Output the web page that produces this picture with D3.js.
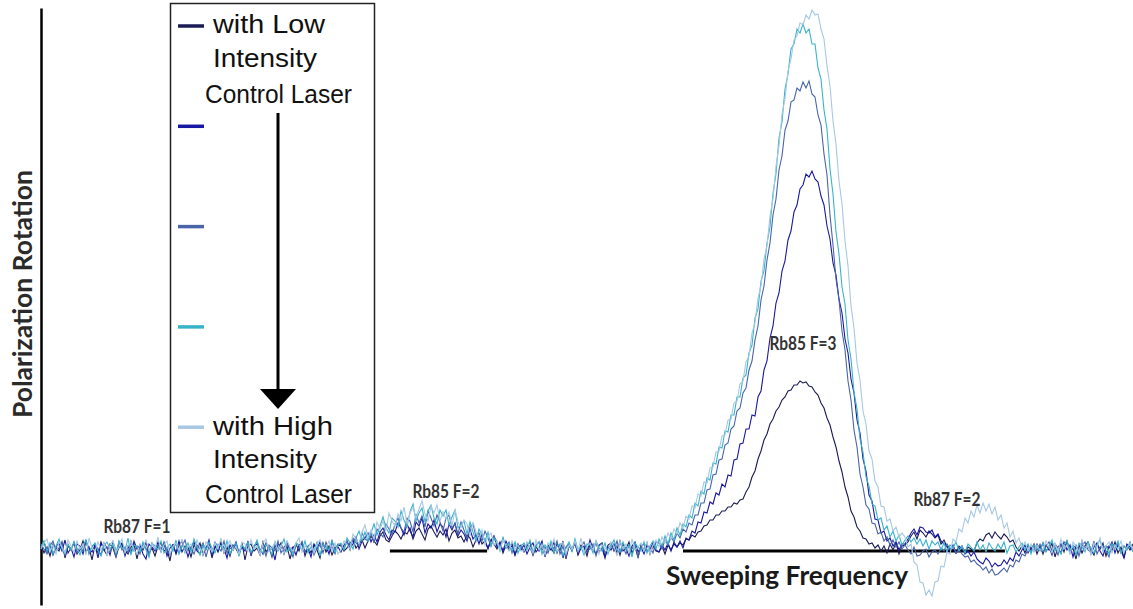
<!DOCTYPE html>
<html>
<head>
<meta charset="utf-8">
<script src="https://cdnjs.cloudflare.com/ajax/libs/d3/7.8.5/d3.min.js"></script>
<style>
  body { margin: 0; background: #fff; }
  svg { display: block; }
</style>
</head>
<body>
<div id="chart"></div>
<script>
// DATA ===========================================================================================
// polarization rotation (a.u.) per sweep sample, low -> high control laser intensity
// rows: flat | Rb85 F=2 | flat | Rb85 F=3 | Rb87 F=2 | flat
const lowest = [
  3,-5,1,-8,4,0,-3,6,-10,2,-1,5,-6,-2,7,-4,1,-12,3,-5,
  6,-2,-7,4,0,-9,2,5,-3,-6,1,4,-11,3,-2,6,-5,0,-8,2,
  5,-3,-1,-13,4,-6,2,7,-4,1,-9,3,-2,5,-7,0,4,-10,2,-3,
  6,-5,1,-8,3,-1,-6,5,-12,2,4,-3,0,-7,6,-4,1,-9,3,-2,
  5,-6,2,-11,0,4,-3,6,-8,1,-5,3,-2,-10,5,-4,2,-7,0,3,
  2,-3,0,5,8,0,4,8,0,7,12,7,3,12,16,8,6,12,17,14,9,16,14,20,9,17,20,14,8,19,
  22,16,11,17,13,19,7,15,18,10,12,6,13,10,1,8,12,4,7,0,8,4,-1,6,-5,3,-2,5,-7,1,3,
  -4,2,6,-7,1,-3,5,-9,3,0,-5,4,-2,7,-11,2,-1,5,-6,3,1,-8,4,-2,6,-4,0,-10,3,5,
  -3,2,-7,4,-1,6,-5,1,-9,3,-2,5,-6,2,-3,
  -4,2,-6,3,-2,4,1,5,3,9,8,13,11,16,17,22,23,28,28,33,33,37,37,41,41,45,44,48,49,56,
  61,71,77,89,97,108,114,124,129,137,141,148,151,157,158,163,163,167,165,166,
  162,161,156,153,145,140,130,123,111,101,87,76,61,51,37,31,21,17,10,9,4,5,0,3,-3,2,-5,4,-2,5,-6,2,
  3,6,12,16,9,18,15,11,17,14,10,13,4,8,1,-3,-1,-5,2,-2,-4,1,-1,-3,5,9,7,13,15,10,
  16,12,9,14,11,6,8,1,-3,2,-5,3,-2,4,-6,2,
  -6,3,-2,5,-9,1,4,-4,7,-3,0,-11,3,-5,2,6,-2,-7,4,-1,5,-8,2,-3,6,-5,1,-10,3,-2,4
]
const low = [
  -2,6,-4,3,-7,1,5,-3,8,-5,0,-9,4,2,-6,7,-1,-4,3,-10,
  5,-2,1,-7,6,-3,0,4,-8,2,-5,7,-1,3,-6,-11,4,1,-3,6,
  -2,5,-8,0,3,-5,7,-4,2,-9,1,6,-3,-6,4,-1,8,-7,2,-4,
  5,0,-10,3,-2,6,-5,1,-3,7,-8,2,4,-1,-6,5,-3,0,-12,4,
  2,-5,6,-2,1,-7,3,5,-4,0,-9,4,-1,6,-3,2,-6,7,-2,1,
  -4,3,7,0,4,11,-1,7,10,15,6,13,6,16,20,13,8,18,16,25,20,13,24,17,11,26,22,30,15,24,
  20,28,16,24,21,11,24,18,25,12,18,14,7,19,9,13,4,14,7,-1,8,12,1,5,-3,7,0,2,-7,4,-2,
  3,-6,1,5,-4,0,7,-8,2,-2,6,-5,3,-10,1,4,-3,6,-7,0,2,-4,8,-1,-6,3,5,-9,1,-2,
  4,-5,7,-3,0,-8,2,6,-4,1,-6,3,-1,5,-2,
  -4,3,-2,5,-3,6,1,7,0,10,8,17,15,26,25,36,35,46,44,55,53,64,61,73,72,88,89,104,105,119,
  119,133,132,151,157,178,187,210,222,245,255,277,287,308,317,336,343,359,363,374,
  371,377,369,366,352,343,322,309,285,273,249,235,209,195,169,155,128,115,89,77,53,47,29,28,15,17,7,10,2,6,-2,4,
  4,9,15,19,13,21,20,16,15,18,11,14,7,4,2,-2,3,-5,-1,2,-6,-3,-8,-4,-11,-14,-16,-10,-13,-19,
  -15,-18,-17,-12,-16,-10,-13,-4,-8,-2,3,-5,1,-3,4,-2,
  5,-3,1,-7,4,0,-5,6,-2,3,-9,2,-4,7,-1,4,-6,1,5,-3,-8,2,0,6,-5,3,-2,-10,4,1,-3
]
const medium = [
  4,-1,-6,2,7,-3,0,5,-8,3,-2,6,-5,1,-3,8,-6,2,4,-1,
  -7,5,0,-4,3,-9,6,-2,1,-5,7,-3,2,-6,4,0,-8,5,-1,3,
  -4,6,-2,-7,1,4,-5,2,8,-3,0,-6,3,-1,5,-9,2,-4,6,1,
  -3,7,-5,0,-2,4,-7,3,-1,5,-6,2,6,-4,1,-8,3,0,-3,7,
  -5,1,4,-2,-9,3,-1,6,-4,2,5,-7,0,3,-5,6,-2,1,-6,4,
  3,-1,7,-2,10,5,2,15,9,7,15,5,19,15,11,24,19,13,24,30,20,16,30,27,16,34,25,32,21,37,
  30,22,33,26,17,30,33,20,24,14,26,18,9,21,24,11,15,7,17,10,2,12,6,1,10,0,6,-5,3,-1,2,
  -3,5,0,-7,3,6,-2,1,-5,4,-1,7,-6,2,-9,3,0,5,-4,1,6,-3,-1,4,-8,2,5,-5,0,3,
  -2,7,-4,1,-6,3,-1,5,-10,2,4,-3,1,-5,6,
  5,-1,8,3,11,6,15,10,19,16,25,23,33,33,45,45,58,59,73,74,88,89,103,105,119,122,137,140,155,160,
  178,187,208,222,248,262,288,305,333,349,378,392,418,427,446,448,460,457,466,460,
  467,454,451,433,423,394,373,333,303,269,248,217,198,167,148,118,101,74,61,43,39,25,24,14,16,7,11,3,8,1,6,-1,
  3,-2,-6,1,-8,-7,-3,-1,-9,-4,-2,-6,0,-3,4,-1,2,-5,-2,-6,-9,-8,-14,-12,-16,-18,-22,-19,-25,-21,
  -27,-26,-23,-20,-24,-17,-19,-12,-14,-6,-8,-1,-4,3,-2,4,
  -4,2,6,-3,1,-7,4,-1,5,-5,0,3,-8,2,6,-2,-4,7,-6,1,3,-3,-9,4,0,5,-5,2,-1,6,-3
]
const high = [
  1,7,-3,5,-6,2,9,-1,-5,4,-2,6,0,-7,3,8,-4,1,5,-3,
  -8,2,6,-1,4,-5,7,0,-3,10,-6,3,1,-4,6,-2,-9,5,2,-1,
  7,-5,0,4,-3,8,-6,2,-1,5,-4,9,1,-7,3,-2,6,0,-5,4,
  2,-3,7,-6,1,5,-8,3,-1,6,-4,0,8,-2,-5,4,1,-7,6,-3,
  2,9,-4,0,-6,5,3,-2,7,-5,1,-3,6,-8,4,0,-2,7,-4,3,
  5,-2,10,5,-1,10,17,7,16,7,15,24,13,22,31,20,15,30,27,21,37,28,21,36,44,27,35,40,26,37,
  43,30,24,38,32,38,23,31,38,20,24,27,14,26,16,7,19,13,7,16,2,10,6,-3,10,0,5,-3,6,-5,2,
  5,-2,8,-4,1,6,-6,3,-1,7,-5,2,4,-8,0,6,-3,9,-2,1,-7,4,3,-5,7,0,-3,5,-6,2,
  8,-1,-4,6,-2,3,-9,5,1,-3,6,-5,2,7,-1,
  9,2,12,4,15,8,20,13,24,21,33,30,45,42,57,54,70,68,85,84,101,100,117,116,133,133,151,151,170,173,
  195,203,230,239,267,277,305,321,355,374,410,426,459,474,499,504,519,515,524,515,
  519,504,504,480,469,438,419,379,354,316,294,261,244,208,189,156,139,109,96,71,62,44,42,28,30,18,22,11,17,7,13,3,
  8,12,6,10,4,9,2,8,-1,7,3,6,-2,5,-4,3,0,6,-3,2,-5,4,1,-3,6,-2,3,-4,5,0,
  -3,4,-1,6,-5,2,3,-4,1,5,-2,4,-6,3,0,-3,
  5,-4,2,8,-3,0,-6,4,7,-2,3,-7,5,1,-4,6,-1,-5,3,8,-3,2,-6,4,0,7,-5,2,-2,5,-4
]
const highest = [
  -1,5,9,-3,3,-6,6,1,-5,8,2,-4,7,-1,4,-7,10,0,-3,6,
  -2,5,-8,3,7,-4,1,9,-5,2,6,-2,-6,4,0,8,-3,5,-1,11,
  -4,3,7,-6,2,5,-2,9,-5,1,4,-3,8,0,-7,6,2,-4,5,-1,
  10,-5,3,7,-2,1,-6,6,4,-3,8,-1,2,-7,5,9,-4,0,6,-2,
  3,-6,7,1,-3,5,10,-4,2,-1,6,-5,4,8,-2,0,7,-3,5,-6,
  -2,7,3,-1,14,9,4,16,23,11,18,9,26,19,27,17,35,27,22,34,27,41,24,35,41,30,39,47,34,27,
  42,35,43,27,36,29,36,22,38,26,20,28,24,12,26,16,9,18,3,12,15,3,7,-2,8,2,-3,7,-1,3,-3,
  -3,6,1,-5,8,-2,4,-7,5,0,9,-4,2,6,-6,3,-1,7,-3,10,-5,1,5,-2,8,-6,3,0,-4,6,
  2,-8,7,-1,4,-5,9,-2,1,5,-3,6,-6,3,8,
  1,11,5,15,9,19,14,25,20,32,29,42,40,54,52,66,65,80,81,96,97,112,113,128,129,145,147,164,167,186,
  192,215,225,250,262,289,302,332,349,382,402,434,449,477,489,508,512,525,523,533,
  529,538,533,534,519,509,482,462,427,404,367,344,307,282,242,220,185,168,137,124,97,89,67,61,42,41,27,29,17,21,11,15,
  11,1,4,-14,-17,-34,-35,-47,-42,-48,-34,-33,-18,-19,-4,-6,9,6,19,16,30,25,37,31,43,35,45,37,44,34,
  41,28,33,20,25,11,17,5,10,0,6,-3,4,-4,3,-2,
  -2,7,1,-5,5,-3,9,-1,3,-6,6,2,-4,8,-2,4,-7,5,0,10,-3,2,6,-5,3,-1,7,-4,1,5,-2
]

const series = [lowest, low, medium, high, highest]
const colors = ['#1a1a55', '#1818a2', '#4a64aa', '#38b4ca', '#a6c8e4']

// sweep sample ranges of the zero-rotation reference lines
const baselineSpans = [[116.3, 148.7], [214, 321.3]]

const peakLabels = ['Rb87 F=1', 'Rb85 F=2', 'Rb85 F=3', 'Rb87 F=2']
const legendTop = ['with Low', 'Intensity', 'Control Laser']
const legendBottom = ['with High', 'Intensity', 'Control Laser']
const xTitle = 'Sweeping Frequency'
const yTitle = 'Polarization Rotation'

// SET UP =========================================================================================
const width = 1133
const height = 609

const svg = d3.select('#chart')
  .append('svg')
  .attr('width', width)
  .attr('height', height)
  .style('background', '#fff')

// SCALES AND AXES ================================================================================
const x = d3.scaleLinear()
  .domain([0, 364])
  .range([41, 1133])

const y = d3.scaleLinear()
  .domain([-57, 540])
  .range([605, 8])

svg.append('g')
  .attr('transform', 'translate(41, 0)')
  .call(d3.axisLeft(y).ticks(0).tickSize(0).tickSizeOuter(0))
  .call(g => g.select('.domain').attr('stroke', '#000').attr('stroke-width', 2.5))

// MARKS ==========================================================================================
svg.append('g')
  .selectAll('line')
  .data(baselineSpans)
  .join('line')
  .attr('x1', d => x(d[0]))
  .attr('x2', d => x(d[1]))
  .attr('y1', y(-3))
  .attr('y2', y(-3))
  .attr('stroke', '#000')
  .attr('stroke-width', 3)

const line = d3.line()
  .x((d, i) => x(i))
  .y(d => y(d))

svg.append('g')
  .selectAll('path')
  .data(series)
  .join('path')
  .attr('fill', 'none')
  .attr('stroke', (d, i) => colors[i])
  .attr('stroke-width', 1.1)
  .attr('d', line)

// peak labels
const labelPos = [[32, 15], [135, 50], [254, 198], [302, 42]]
svg.append('g')
  .selectAll('text')
  .data(peakLabels)
  .join('text')
  .attr('x', (d, i) => x(labelPos[i][0]))
  .attr('y', (d, i) => y(labelPos[i][1]))
  .attr('text-anchor', 'middle')
  .attr('font-family', 'Lato, "Open Sans", sans-serif')
  .attr('font-weight', 'bold')
  .attr('font-size', 19)
  .attr('fill', '#333')
  .attr('textLength', 67)
  .attr('lengthAdjust', 'spacingAndGlyphs')
  .text(d => d)

// axis titles
svg.append('text')
  .attr('x', 666)
  .attr('y', 585)
  .attr('font-family', 'Lato, "Open Sans", sans-serif')
  .attr('font-weight', 'bold')
  .attr('font-size', 27)
  .attr('fill', '#1a1a1a')
  .attr('textLength', 242)
  .attr('lengthAdjust', 'spacingAndGlyphs')
  .text(xTitle)

svg.append('text')
  .attr('transform', 'translate(32, 294) rotate(-90)')
  .attr('text-anchor', 'middle')
  .attr('font-family', 'Lato, "Open Sans", sans-serif')
  .attr('font-weight', 'bold')
  .attr('font-size', 27)
  .attr('fill', '#2a2a2a')
  .attr('textLength', 248)
  .attr('lengthAdjust', 'spacingAndGlyphs')
  .text(yTitle)

// LEGEND =========================================================================================
const legend = svg.append('g')

legend.append('rect')
  .attr('x', 170.5)
  .attr('y', 3.5)
  .attr('width', 204)
  .attr('height', 509)
  .attr('fill', '#fff')
  .attr('stroke', '#222')
  .attr('stroke-width', 1.5)

legend.selectAll('.swatch')
  .data(colors)
  .join('line')
  .attr('class', 'swatch')
  .attr('x1', 178)
  .attr('x2', 204)
  .attr('y1', (d, i) => 26 + i * 100.3)
  .attr('y2', (d, i) => 26 + i * 100.3)
  .attr('stroke', d => d)
  .attr('stroke-width', 3.5)

const legendLines = [
  {t: legendTop[0], x: 213, y: 33, w: 112},
  {t: legendTop[1], x: 213, y: 67, w: 104},
  {t: legendTop[2], x: 205, y: 103, w: 147},
  {t: legendBottom[0], x: 213, y: 435, w: 120},
  {t: legendBottom[1], x: 213, y: 468, w: 104},
  {t: legendBottom[2], x: 205, y: 503, w: 147}
]
legend.selectAll('.lbl')
  .data(legendLines)
  .join('text')
  .attr('class', 'lbl')
  .attr('x', d => d.x)
  .attr('y', d => d.y)
  .attr('font-family', '"Liberation Sans", Arial, sans-serif')
  .attr('font-size', 25)
  .attr('fill', '#111')
  .attr('textLength', d => d.w)
  .attr('lengthAdjust', 'spacingAndGlyphs')
  .text(d => d.t)

// arrow from low to high
legend.append('line')
  .attr('x1', 278).attr('x2', 278)
  .attr('y1', 113).attr('y2', 392)
  .attr('stroke', '#000')
  .attr('stroke-width', 3)
legend.append('path')
  .attr('d', 'M260,389 L296,389 L278,409 Z')
  .attr('fill', '#000')
</script>
</body>
</html>
